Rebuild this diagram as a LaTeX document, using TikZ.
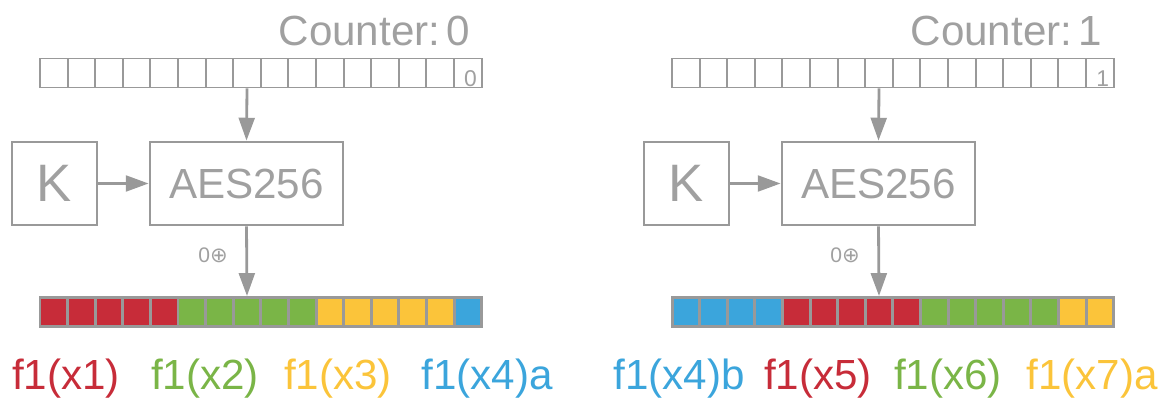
\documentclass[tikz,border=0pt]{standalone}
\usepackage{fontspec}
\setmainfont{Liberation Sans}
\newfontfamily\symfont{DejaVu Sans}
\usetikzlibrary{arrows.meta}

\definecolor{linegray}{HTML}{999999}
\definecolor{textgray}{HTML}{A0A0A0}
\definecolor{fred}{HTML}{C72C39}
\definecolor{fgreen}{HTML}{7AB547}
\definecolor{fyellow}{HTML}{FBC43A}
\definecolor{fblue}{HTML}{3BA5DC}

\tikzset{
    box/.style={draw=linegray, line width=1.6pt, minimum height=1.66cm, inner sep=0pt, text=textgray},
    cell/.style={draw=linegray, line width=1.1pt, fill=white, minimum width=0.552cm, minimum height=0.58cm, inner sep=0pt},
    chunk/.style={draw=linegray, line width=1.7pt, fill=#1, minimum width=0.552cm, minimum height=0.58cm, inner sep=0pt},
    flow/.style={draw=linegray, line width=1.6pt, -{Triangle[length=13pt,width=9pt]}},
    graytext/.style={text=textgray, inner sep=0pt},
    fname/.style={text=#1, inner sep=0pt, anchor=base, font=\fontsize{24}{24}\selectfont},
}

\begin{document}
\begin{tikzpicture}[x=0.02cm, y=-0.02cm]
    \useasboundingbox (0,0) rectangle (1165,398);

    % first block, counter 0
    \begin{scope}[shift={(0,0)}]
        \node[graytext, anchor=base east, font=\fontsize{24}{24}\selectfont] (lcnt) at (470,46) {Counter:\hspace{0.14em}0};
        \foreach \i in {1,...,16}
            \node[cell] (lc\i) at ({40+27.6*(\i-0.5)},73) {};
        \node[graytext, anchor=south east, font=\fontsize{13}{13}\selectfont] (lval) at ([shift={(-3pt,1pt)}]lc16.south east) {0};

        \node[box, minimum width=1.7cm, font=\fontsize{30}{30}\selectfont] (lkey) at (54.5,183.5) {K};
        \node[box, minimum width=3.86cm, font=\fontsize{24}{24}\selectfont] (laes) at (246.5,183.5) {AES256};

        \foreach \c [count=\i] in {fred,fred,fred,fred,fred,fgreen,fgreen,fgreen,fgreen,fgreen,fyellow,fyellow,fyellow,fyellow,fyellow,fblue}
            \node[chunk=\c] (lb\i) at ({40+27.6*(\i-0.5)},312) {};

        \begin{scope}[every edge/.style={flow}]
            \path (lc8.south) edge (laes.north);
            \path (lkey.east) edge (laes.west);
            \path (laes.south) edge node[pos=0.41, left=10pt, graytext, font=\fontsize{12}{12}\selectfont] (lxor) {0{\symfont ⊕}} (lb8.north);
        \end{scope}

        \node[fname=fred] (lf1) at (66,389) {f1(x1)};
        \node[fname=fgreen] (lf2) at (205,389) {f1(x2)};
        \node[fname=fyellow] (lf3) at (338,389) {f1(x3)};
        \node[fname=fblue] (lf4) at (487,389) {f1(x4)a};
    \end{scope}

    % second block, counter 1
    \begin{scope}[shift={(632,0)}]
        \node[graytext, anchor=base east, font=\fontsize{24}{24}\selectfont] (rcnt) at (470,46) {Counter:\hspace{0.14em}1};
        \foreach \i in {1,...,16}
            \node[cell] (rc\i) at ({40+27.6*(\i-0.5)},73) {};
        \node[graytext, anchor=south east, font=\fontsize{13}{13}\selectfont] (rval) at ([shift={(-3pt,1pt)}]rc16.south east) {1};

        \node[box, minimum width=1.7cm, font=\fontsize{30}{30}\selectfont] (rkey) at (54.5,183.5) {K};
        \node[box, minimum width=3.86cm, font=\fontsize{24}{24}\selectfont] (raes) at (246.5,183.5) {AES256};

        \foreach \c [count=\i] in {fblue,fblue,fblue,fblue,fred,fred,fred,fred,fred,fgreen,fgreen,fgreen,fgreen,fgreen,fyellow,fyellow}
            \node[chunk=\c] (rb\i) at ({40+27.6*(\i-0.5)},312) {};

        \begin{scope}[every edge/.style={flow}]
            \path (rc8.south) edge (raes.north);
            \path (rkey.east) edge (raes.west);
            \path (raes.south) edge node[pos=0.41, left=10pt, graytext, font=\fontsize{12}{12}\selectfont] (rxor) {0{\symfont ⊕}} (rb8.north);
        \end{scope}

        \node[fname=fblue] (rf1) at (47,389) {f1(x4)b};
        \node[fname=fred] (rf2) at (186,389) {f1(x5)};
        \node[fname=fgreen] (rf3) at (316,389) {f1(x6)};
        \node[fname=fyellow] (rf4) at (460,389) {f1(x7)a};
    \end{scope}
\end{tikzpicture}
\end{document}
